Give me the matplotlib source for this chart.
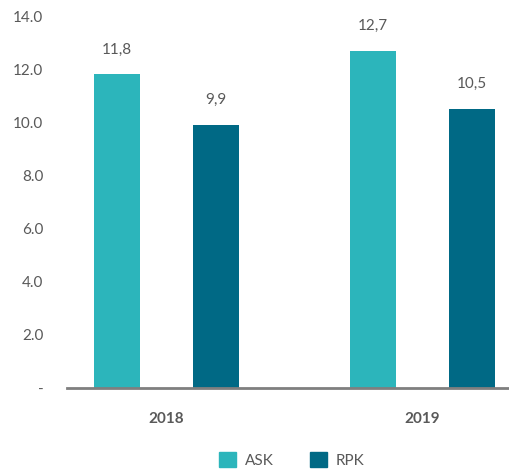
import matplotlib
matplotlib.use("Agg")
import matplotlib.pyplot as plt
import numpy as np
from matplotlib.patches import Patch

plt.rcParams["font.family"] = ["Lato", "DejaVu Sans"]

years = ["2018", "2019"]
ask = [11.8, 12.7]
rpk = [9.9, 10.5]
series = [("ASK", ask, "#2cb5bb"), ("RPK", rpk, "#006985")]

GRAY = "#595959"

fig = plt.figure(figsize=(5.10, 4.75), dpi=100)
ax = fig.add_axes([67 / 510, 87 / 475, 1 - 67 / 510, 372 / 475])

x = np.arange(len(years))
width = 0.18
offset = 0.193
for i, (name, vals, color) in enumerate(series):
    pos = x + (i * 2 - 1) * offset
    bars = ax.bar(pos, vals, width=width, color=color, label=name, zorder=2)
    for b, v in zip(bars, vals):
        ax.annotate(f"{v:.1f}".replace(".", ","),
                    (b.get_x() + b.get_width() / 2, v),
                    xytext=(0, 18), textcoords="offset points",
                    ha="center", va="center", fontsize=11, color=GRAY)

ax.set_xlim(-0.389, 1.342)
ax.set_ylim(0, 14)
yt = np.arange(0, 15, 2)
ax.set_yticks(yt)
ax.set_yticklabels(["-"] + [f"{v:.1f}" for v in yt[1:]], fontsize=11, color=GRAY)
ax.set_xticks(x)
ax.set_xticklabels(years, fontsize=11, fontweight="bold", color=GRAY)
ax.tick_params(axis="y", length=0, pad=17)
ax.tick_params(axis="x", length=0, pad=17)

for side in ("top", "right", "left"):
    ax.spines[side].set_visible(False)
ax.spines["bottom"].set_color("#7f7f7f")
ax.spines["bottom"].set_linewidth(2)

handles = [Patch(color=c, label=n) for n, _, c in series]
fig.legend(handles=handles, loc="center", bbox_to_anchor=(292 / 510, 15 / 475),
           ncol=2, frameon=False, fontsize=11, labelcolor=GRAY,
           handlelength=1.1, handleheight=1.1, columnspacing=2.35,
           handletextpad=0.6)

fig.savefig("out.png", dpi=100)
